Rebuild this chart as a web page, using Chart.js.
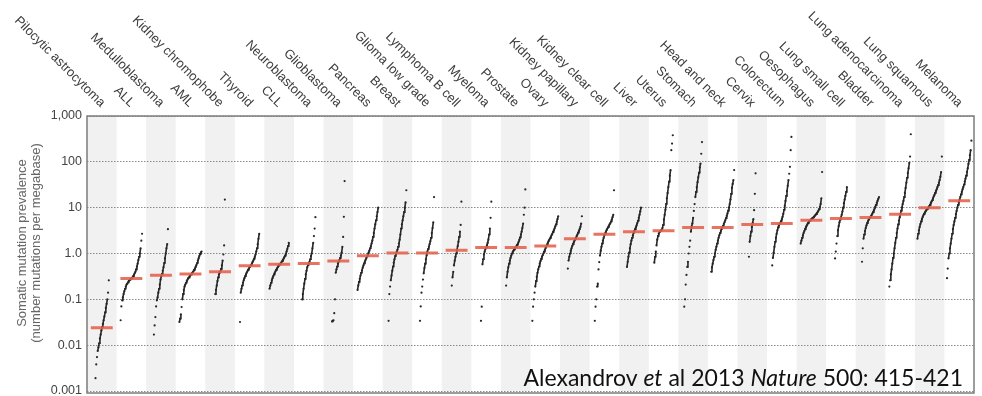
<!DOCTYPE html>
<html><head><meta charset="utf-8">
<script src="https://cdn.jsdelivr.net/npm/chart.js@4.4.1/dist/chart.umd.min.js"></script>
<style>html,body{margin:0;padding:0;background:#fff;overflow:hidden}#wrap{position:relative;width:982px;height:396px}</style>
</head><body><div id="wrap"><canvas id="c" width="982" height="396"></canvas></div>
<script>
const categories = ['Pilocytic astrocytoma','ALL','Medulloblastoma','AML','Kidney chromophobe','Thyroid','CLL','Neuroblastoma','Glioblastoma','Pancreas','Breast','Glioma low grade','Lymphoma B cell','Myeloma','Prostate','Ovary','Kidney papillary','Kidney clear cell','Liver','Uterus','Stomach','Head and neck','Cervix','Colorectum','Oesophagus','Lung small cell','Bladder','Lung adenocarcinoma','Lung squamous','Melanoma'];
const medians = [0.024,0.285,0.335,0.355,0.40,0.54,0.585,0.605,0.69,0.89,1.03,1.03,1.18,1.35,1.35,1.45,2.1,2.64,2.97,3.12,3.69,3.69,4.29,4.51,5.34,5.8,6.1,7.2,9.9,14.1];

const pilocyticAstrocytoma = [0.0009,0.0019,0.0038,0.0055,0.0075,0.009,0.011,0.014,0.017,0.021,0.025,0.029,0.035,0.042,0.052,0.065,0.08,0.1,0.14,0.26];
const allLeukaemia = [0.035,0.07,0.095,0.11,0.13,0.15,0.17,0.19,0.21,0.22,0.235,0.25,0.26,0.27,0.28,0.29,0.30,0.32,0.34,0.37,0.40,0.45,0.52,0.6,0.72,0.85,1.0,1.3,1.9,2.7];
const medulloblastoma = [0.017,0.027,0.041,0.07,0.095,0.11,0.14,0.17,0.21,0.27,0.32,0.36,0.42,0.5,0.62,0.78,1.0,1.3,1.6,3.4];
const aml = [0.032,0.038,0.047,0.068,0.1,0.13,0.16,0.19,0.21,0.23,0.25,0.27,0.29,0.3,0.32,0.34,0.35,0.37,0.39,0.41,0.44,0.47,0.51,0.56,0.62,0.7,0.78,0.88,0.97,1.05,1.1];
const kidneyChromophobe = [0.13,0.16,0.2,0.25,0.3,0.35,0.38,0.41,0.46,0.55,0.7,0.95,1.5,15];
const thyroid = [0.032,0.14,0.17,0.2,0.23,0.26,0.29,0.32,0.35,0.38,0.41,0.44,0.47,0.5,0.53,0.56,0.6,0.65,0.7,0.77,0.85,0.95,1.1,1.3,1.6,2.1,2.7];
const cll = [0.17,0.2,0.23,0.26,0.29,0.32,0.35,0.38,0.41,0.44,0.47,0.5,0.53,0.56,0.58,0.61,0.64,0.68,0.72,0.77,0.83,0.9,0.98,1.1,1.25,1.45,1.7];
const neuroblastoma = [0.1,0.13,0.17,0.22,0.28,0.35,0.42,0.5,0.56,0.6,0.66,0.75,0.88,1.0,1.3,1.7,2.4,3.5,6.2];
const glioblastoma = [0.033,0.034,0.035,0.05,0.1,0.38,0.45,0.52,0.6,0.66,0.72,0.8,0.9,1.05,1.4,2.3,6.3,38];
const pancreas = [0.16,0.2,0.24,0.28,0.33,0.38,0.43,0.49,0.55,0.61,0.67,0.73,0.8,0.87,0.95,1.05,1.15,1.3,1.45,1.65,1.9,2.3,2.8,3.5,4.3,5.3,6.5,8,10];
const breast = [0.034,0.13,0.19,0.26,0.33,0.42,0.52,0.63,0.75,0.88,0.98,1.08,1.2,1.4,1.65,2.0,2.6,3.5,4.3,5.3,6.5,8,10,13,24];
const gliomaLowGrade = [0.034,0.07,0.14,0.19,0.27,0.37,0.48,0.6,0.75,0.92,1.1,1.25,1.4,1.6,1.85,2.2,2.8,3.6,4.8,17];
const lymphomaBCell = [0.2,0.3,0.4,0.55,0.7,0.85,1.0,1.2,1.45,1.8,2.3,3.0,4.2,13.5];
const myeloma = [0.034,0.069,0.58,0.75,0.95,1.1,1.25,1.35,1.5,1.7,2.0,2.6,3.5,6,13.5];
const prostate = [0.2,0.3,0.4,0.5,0.6,0.7,0.8,0.9,1.0,1.08,1.15,1.22,1.3,1.37,1.45,1.55,1.65,1.8,2.0,2.25,2.6,3.0,3.6,4.5,7,10,25];
const ovary = [0.034,0.069,0.1,0.14,0.19,0.25,0.31,0.38,0.45,0.52,0.6,0.68,0.76,0.84,0.92,1.0,1.1,1.2,1.32,1.45,1.58,1.72,1.86,2.0,2.15,2.3,2.5,2.7,2.95,3.2,3.5,3.9,4.3,4.9,5.6,6.5];
const kidneyPapillary = [0.47,0.7,0.85,1.0,1.15,1.3,1.45,1.6,1.75,1.9,2.05,2.2,2.4,2.6,2.85,3.1,3.4,3.8,4.5,6.5];
const kidneyClearCell = [0.034,0.069,0.1,0.19,0.22,0.45,0.65,0.9,1.15,1.4,1.65,1.9,2.2,2.5,2.75,3.0,3.25,3.5,3.75,4.0,4.3,4.6,5.0,5.5,6.2,7.0,24];
const liver = [0.51,0.66,0.85,1.05,1.3,1.6,1.9,2.2,2.5,2.8,3.1,3.4,3.7,4.1,4.6,5.2,6.0,7.0,8.3,10];
const uterus = [0.63,0.85,1.1,1.5,2.0,2.4,2.7,2.9,3.05,3.15,3.3,3.6,4.2,5.5,7,9,12,16,21,28,37,50,66,180,250,380];
const stomach = [0.069,0.1,0.21,0.34,0.51,0.66,1.0,1.4,1.9,3.0,3.9,4.5,6,8.5,12,17,22,28,36,46,58,75,92,150,270];
const headAndNeck = [0.4,0.5,0.6,0.72,0.85,1.0,1.2,1.4,1.65,1.9,2.2,2.5,2.8,3.1,3.4,3.7,4.0,4.4,4.8,5.3,5.9,6.6,7.5,8.6,10,12,15,20,27,33,40,66];
const cervix = [0.85,1.8,2.4,3.0,3.8,4.6,5.6,8.8,20,56];
const colorectum = [0.55,0.8,1.05,1.4,1.8,2.2,2.7,3.2,3.7,4.1,4.4,4.7,5.1,5.6,6.3,7.3,9,11,14,18,23,30,40,55,78,180,350];
const oesophagus = [1.65,1.9,2.2,2.5,2.8,3.1,3.4,3.7,4.0,4.3,4.6,4.9,5.1,5.3,5.5,5.7,5.9,6.1,6.3,6.6,6.9,7.2,7.6,8.0,8.6,9.3,10.3,12,16,60];
const lungSmallCell = [0.78,1.1,1.65,2.4,3.2,4.0,4.8,5.5,6.1,7.0,8.2,10,12.5,15,18,22,28];
const bladder = [0.66,1.3,2.1,2.6,3.1,3.6,4.1,4.6,5.0,5.4,5.8,6.1,6.5,6.9,7.4,8.0,8.7,9.5,10.5,11.5,12.7,14,15.5,17];
const lungAdenocarcinoma = [0.19,0.26,0.35,0.45,0.6,0.8,1.0,1.3,1.7,2.2,2.8,3.5,4.3,5.2,6.2,7.3,8.6,10,12,14,17,21,27,35,45,57,72,95,130,400];
const lungSquamous = [2.1,2.7,3.2,3.8,4.4,5.0,5.6,6.2,6.8,7.3,7.8,8.3,8.8,9.3,9.7,10.1,10.8,11.5,12.5,13.5,14.5,16,17.5,19,21,23,25,28,31,35,40,47,60,130];
const melanoma = [0.29,0.47,0.78,1.0,1.3,1.65,2.1,2.7,3.4,4.2,5.0,6.0,7.2,8.5,10,11.5,13,15,17,19.5,22,25,28,32,37,43,50,60,72,90,110,140,180,290];

const samples = [pilocyticAstrocytoma,allLeukaemia,medulloblastoma,aml,kidneyChromophobe,thyroid,cll,neuroblastoma,glioblastoma,pancreas,breast,gliomaLowGrade,lymphomaBCell,myeloma,prostate,ovary,kidneyPapillary,kidneyClearCell,liver,uterus,stomach,headAndNeck,cervix,colorectum,oesophagus,lungSmallCell,bladder,lungAdenocarcinoma,lungSquamous,melanoma];

const yTicks = [0.001,0.01,0.1,1,10,100,1000];
const yTickLabels = ['0.001','0.01','0.1','1.0','10','100','1,000'];
const yTitle = ['Somatic mutation prevalence','(number mutations per megabase)'];
const citationParts = [['Alexandrov ',false],['et',true],[' al 2013 ',false],['Nature',true],[' 500: 415-421',false]];

// layout / style
const STEP = 0.025;          // horizontal spacing of samples (column units)
const DOT = '#262626';
const RED = 'rgba(228,96,74,0.88)';
const LABEL_FONT = '"Liberation Sans", Arial, sans-serif';

const datasets = [];
datasets.push({
  label: 'median', order: 0, showLine: true, borderColor: RED, borderWidth: 3,
  pointRadius: 0, spanGaps: false,
  data: medians.flatMap((m, i) => [{x: i + 0.13, y: m}, {x: i + 0.87, y: m}, {x: i + 0.9, y: null}])
});
samples.forEach((vals, i) => {
  const n = vals.length;
  datasets.push({
    label: categories[i], order: 1, showLine: true, borderWidth: 1.6, borderColor: DOT,
    pointRadius: 1.1, pointBorderWidth: 0, pointBackgroundColor: DOT,
    segment: { borderColor: ctx => Math.abs(ctx.p1.y - ctx.p0.y) > 6 ? 'rgba(0,0,0,0)' : DOT },
    data: vals.map((v, k) => ({x: i + 0.5 + (k - (n - 1) / 2) * STEP, y: v}))
  });
});

const decor = {
  id: 'decor',
  beforeDraw(chart) {
    const {ctx, chartArea: a, scales: {x}} = chart;
    ctx.save();
    ctx.fillStyle = '#fff';
    ctx.fillRect(0, 0, chart.width, chart.height);
    ctx.fillStyle = '#f1f1f1';
    for (let i = 0; i < categories.length; i += 2) {
      const x0 = x.getPixelForValue(i), x1 = x.getPixelForValue(i + 1);
      ctx.fillRect(x0, a.top, x1 - x0, a.bottom - a.top);
    }
    ctx.restore();
  },
  afterDraw(chart) {
    const {ctx, chartArea: a, scales: {x}} = chart;
    ctx.save();
    ctx.strokeStyle = '#7c7c7c'; ctx.lineWidth = 1.5;
    ctx.strokeRect(a.left, a.top, a.right - a.left, a.bottom - a.top + 2);
    // category labels
    ctx.font = '13px ' + LABEL_FONT;
    ctx.fillStyle = '#3c3c3c';
    ctx.textAlign = 'right'; ctx.textBaseline = 'middle';
    categories.forEach((c, i) => {
      const px = x.getPixelForValue(i + 0.5);
      ctx.save(); ctx.translate(px + 1, a.top - 11); ctx.rotate(Math.PI / 4); ctx.fillText(c, 0, 0); ctx.restore();
    });
    // y title
    ctx.font = '13px ' + LABEL_FONT;
    ctx.fillStyle = '#666';
    ctx.textAlign = 'center';
    yTitle.forEach((t, j) => {
      ctx.save(); ctx.translate(22 + j * 14, 243); ctx.rotate(-Math.PI / 2); ctx.fillText(t, 0, 0); ctx.restore();
    });
    // citation
    const size = 23;
    const fontOf = it => (it ? 'italic ' : '') + size + 'px Lato, "Open Sans", sans-serif';
    let total = 0;
    citationParts.forEach(([t, it]) => { ctx.font = fontOf(it); total += ctx.measureText(t).width; });
    let cx = 963 - total;
    ctx.fillStyle = '#111'; ctx.textAlign = 'left'; ctx.textBaseline = 'alphabetic';
    citationParts.forEach(([t, it]) => { ctx.font = fontOf(it); ctx.fillText(t, cx, 386); cx += ctx.measureText(t).width; });
    ctx.restore();
  }
};

new Chart(document.getElementById('c'), {
  type: 'scatter',
  data: { datasets },
  plugins: [decor],
  options: {
    responsive: false, animation: false, devicePixelRatio: 1,
    layout: { padding: { top: 116, right: 8, bottom: 5, left: 0 } },
    plugins: { legend: { display: false }, tooltip: { enabled: false } },
    scales: {
      x: { type: 'linear', min: 0, max: categories.length, display: false },
      y: {
        type: 'logarithmic', min: 0.001, max: 1000,
        afterFit: s => { s.width = 87; s.paddingTop = 0; s.paddingBottom = 0; },
        afterBuildTicks: s => { s.ticks = yTicks.map(v => ({value: v})); },
        ticks: {
          padding: 5, color: '#444', font: { family: LABEL_FONT, size: 12.5 },
          callback: (v) => { const i = yTicks.indexOf(v); return i >= 0 ? yTickLabels[i] : ''; }
        },
        grid: { color: '#8a8a8a', lineWidth: 1, drawTicks: false },
        border: { display: false, dash: [1.5, 1.5] }
      }
    }
  }
});
</script></body></html>
